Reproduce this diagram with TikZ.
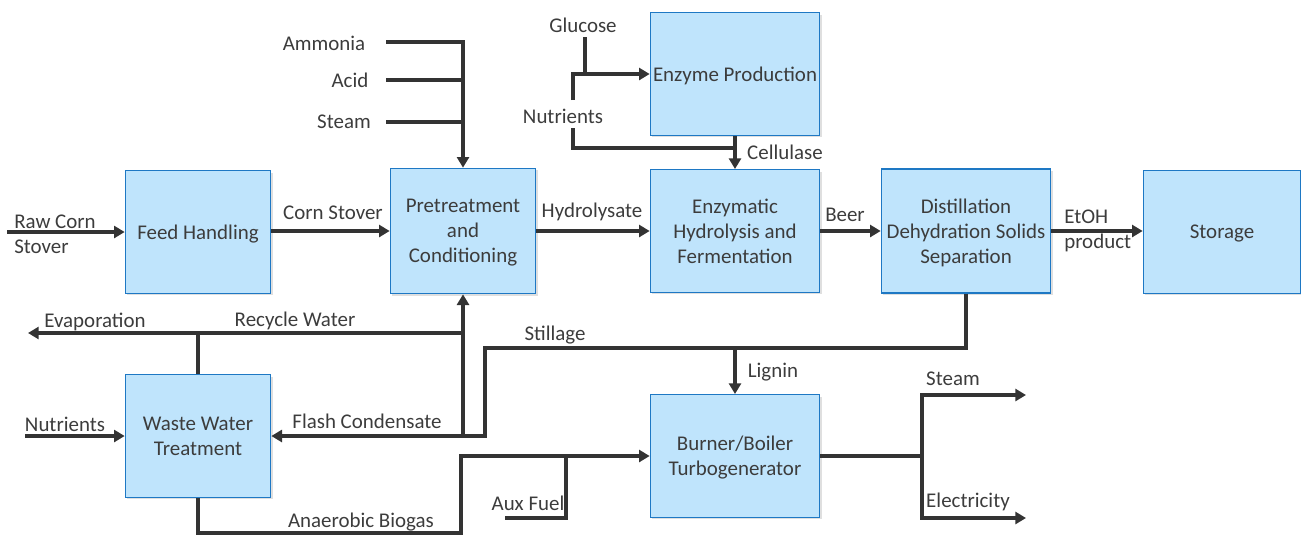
\documentclass[tikz,border=0pt]{standalone}
\usepackage{fontspec}
\setmainfont{Carlito}
\usetikzlibrary{arrows.meta, shadows}

\definecolor{boxfill}{RGB}{191,228,252}
\definecolor{boxline}{RGB}{30,120,196}
\definecolor{pipegray}{RGB}{51,51,51}
\definecolor{txtgray}{RGB}{60,60,60}

\tikzset{
  unit/.style={draw=boxline, fill=boxfill, line width=1pt, text=txtgray, align=center,
    minimum width=109pt, minimum height=92pt, inner sep=1pt, text depth=-1pt,
    drop shadow={shadow xshift=1.5pt, shadow yshift=-1.5pt, opacity=0.25}},
  wideunit/.style={unit, minimum width=127pt},
  pipe/.style={draw=pipegray, line width=3pt},
  flow/.style={pipe, -{Triangle[length=8pt, width=9pt]}},
  lbl/.style={text=txtgray, inner sep=0pt},
}

\begin{document}
\begin{tikzpicture}[x=0.75pt, y=-0.75pt, font=\fontsize{15.7}{18.8}\selectfont]
  \useasboundingbox (0,0) rectangle (1301,536);

  % process units
  \node[unit] (feed) at (198,232) {Feed Handling};
  \node[unit, minimum height=94pt] (pretreat) at (463,231) {Pretreatment\\and\\Conditioning};
  \node[wideunit] (hydro) at (735,231) {Enzymatic\\Hydrolysis and\\Fermentation};
  \node[wideunit, minimum height=93pt] (distill) at (966,231) {Distillation\\Dehydration Solids\\Separation};
  \node[unit, minimum width=118pt] (storage) at (1222,232) {Storage};
  \node[wideunit] (enzyme) at (735,74) {Enzyme Production};
  \node[unit] (wwt) at (198,436) {Waste Water\\Treatment};
  \node[wideunit] (burner) at (735,456) {Burner/Boiler\\Turbogenerator};

  % free ends and junctions
  \coordinate (rawIn) at (7,232);
  \coordinate (ammoniaIn) at (386,42);
  \coordinate (acidIn) at (386,80);
  \coordinate (steamIn) at (386,122);
  \coordinate (glucoseIn) at (585,37);
  \coordinate (nutrUp) at (573,100);
  \coordinate (nutrDown) at (573,128);
  \coordinate (cellJoin) at (735,148);
  \coordinate (flashJoin) at (463,436);
  \coordinate (recycleJoin) at (463,333);
  \coordinate (evapOut) at (28,333);
  \coordinate (stillTurn) at (485,348);
  \coordinate (ligninJoin) at (735,348);
  \coordinate (wwtNutrIn) at (25,436);
  \coordinate (biogasTurn) at (461,533);
  \coordinate (auxIn) at (505,518);
  \coordinate (auxJoin) at (566,456);
  \coordinate (split) at (922,456);
  \coordinate (steamOut) at (1026,395);
  \coordinate (elecOut) at (1026,518);

  % main line
  \draw[flow] (rawIn) -- (feed);
  \draw[flow] (feed.east |- pretreat) -- (pretreat);
  \draw[flow] (pretreat) -- (hydro);
  \draw[flow] (hydro) -- (distill);
  \draw[flow] (distill) -- (distill -| storage.west);

  % chemicals to pretreatment
  \draw[flow] (ammoniaIn) -| (pretreat.north);
  \draw[pipe] (acidIn) -- (acidIn -| pretreat.north);
  \draw[pipe] (steamIn) -- (steamIn -| pretreat.north);

  % enzyme production
  \draw[pipe] (glucoseIn) -- (glucoseIn |- enzyme.west);
  \draw[flow] (nutrUp) |- (enzyme.west);
  \draw[pipe] (nutrDown) |- (cellJoin);
  \draw[flow] (enzyme) -- (hydro);

  % water and residue streams
  \draw[flow] (flashJoin) -- (pretreat.south);
  \draw[flow] (recycleJoin) -- (evapOut);
  \draw[pipe] (wwt.north) -- (wwt.north |- recycleJoin);
  \draw[flow] (distill.south) |- (stillTurn) |- (wwt.east);
  \draw[flow] (ligninJoin) -- (burner.north);
  \draw[flow] (wwtNutrIn) -- (wwt.west);
  \draw[flow] (wwt.south) |- (biogasTurn) |- (burner.west);
  \draw[pipe] (auxIn) -| (auxJoin);

  % utilities
  \draw[pipe] (burner.east) -- (split);
  \draw[flow] (split) |- (steamOut);
  \draw[flow] (split) |- (elecOut);

  % stream labels
  \node[lbl, anchor=west, align=left] (rawLbl) at (14,234) {Raw Corn\\Stover};
  \node[lbl] (stoverLbl) at (333,213) {Corn Stover};
  \node[lbl] (hydroLbl) at (592,212) {Hydrolysate};
  \node[lbl] (beerLbl) at (845,215) {Beer};
  \node[lbl, anchor=west, align=left] (etohLbl) at (1064,231) {EtOH\\product};
  \node[lbl] (ammoniaLbl) at (324,43) {Ammonia};
  \node[lbl] (acidLbl) at (350,80) {Acid};
  \node[lbl] (steamInLbl) at (344,122) {Steam};
  \node[lbl] (glucoseLbl) at (583,25) {Glucose};
  \node[lbl] (nutrLbl) at (563,116) {Nutrients};
  \node[lbl] (cellLbl) at (785,152) {Cellulase};
  \node[lbl] (evapLbl) at (95,322) {Evaporation};
  \node[lbl] (recycleLbl) at (295,321) {Recycle Water};
  \node[lbl] (stillLbl) at (555,335) {Stillage};
  \node[lbl] (ligninLbl) at (773,372) {Lignin};
  \node[lbl] (flashLbl) at (367,421) {Flash Condensate};
  \node[lbl] (wwtNutrLbl) at (65,424) {Nutrients};
  \node[lbl] (biogasLbl) at (361,522) {Anaerobic Biogas};
  \node[lbl] (auxLbl) at (528,503) {Aux Fuel};
  \node[lbl] (steamOutLbl) at (953,379) {Steam};
  \node[lbl] (elecLbl) at (968,502) {Electricity};
\end{tikzpicture}
\end{document}
